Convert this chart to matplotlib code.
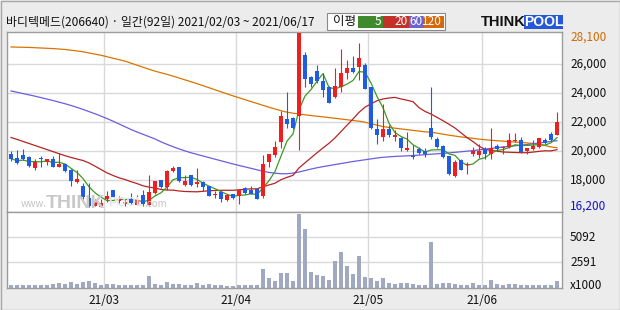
import numpy as np
import pandas as pd
import matplotlib
matplotlib.use("Agg")
import matplotlib.pyplot as plt
import matplotlib.transforms as mtransforms
from matplotlib.patches import Rectangle

plt.rcParams['font.family'] = ['Noto Sans CJK KR', 'DejaVu Sans']

# ---------------- data ----------------
title = "바디텍메드(206640) · 일간(92일) 2021/02/03 ~ 2021/06/17"
legend_title = "이평"
ma_periods = [5, 20, 60, 120]
start_date = "2021-02-03"
end_date = "2021-06-17"
holidays = ["2021-02-11", "2021-02-12", "2021-03-01", "2021-05-05", "2021-05-19"]

opens = [19800, 19550, 19750, 19600, 18850, 19500, 19250, 19500, 18950, 19100,
         18750, 17900, 17600, 16800, 16250, 16200, 16700, 17350, 16600, 16350,
         16700, 16300, 17000, 16300, 17150, 18000, 17550, 18650, 18950, 17700,
         18350, 17750, 17900, 17600, 17000, 17200, 16650, 17050, 16900, 17500,
         17350, 17400, 16900, 19250, 19750, 20650, 22250, 22300, 22400, 26600,
         25100, 25500, 24850, 24450, 23700, 24450, 25350, 25700, 25800, 25950,
         24400, 21500, 21000, 21550, 21000, 20900, 20100, 19700, 20150, 20000,
         21600, 20850, 20400, 19650, 18300, 19400, 19050, 19800, 19750, 20150,
         19800, 20350, 20250, 20300, 20700, 20750, 20000, 20150, 20300, 20800,
         21200, 21150]
highs = [20050, 20100, 20150, 19700, 19450, 19650, 19500, 19700, 19900, 19150,
         18800, 18750, 17800, 17800, 16750, 16750, 17300, 17350, 16950, 16700,
         17150, 17000, 17350, 18350, 17950, 18050, 18700, 19000, 18950, 18350,
         18400, 18850, 17950, 17650, 17300, 17250, 17050, 17100, 17400, 17550,
         17650, 17450, 19750, 19800, 20700, 22800, 24100, 22350, 28100, 26800,
         25200, 25900, 25350, 24500, 25700, 27050, 26250, 26550, 27450, 26100,
         24450, 22250, 23250, 21800, 21450, 20950, 21350, 20450, 20300, 20200,
         24400, 20950, 20450, 19650, 19400, 19450, 19300, 20300, 20500, 20300,
         21600, 20500, 20400, 21250, 21250, 21000, 20250, 20800, 20900, 20900,
         21350, 22700]
lows = [19350, 19100, 19400, 18950, 18750, 18950, 19050, 18900, 18900, 18600,
        17650, 17850, 16750, 16200, 16250, 16200, 16550, 16850, 16450, 16250,
        16400, 16300, 16250, 16300, 17100, 17450, 17350, 18600, 17900, 17650,
        17600, 17550, 17250, 16900, 16800, 16550, 16600, 16750, 16400, 17100,
        17050, 16750, 16800, 18900, 19600, 20250, 21600, 21550, 20100, 24400,
        24450, 24700, 23700, 23300, 23650, 24050, 24950, 25400, 24900, 24250,
        21550, 20500, 20700, 21000, 20700, 20050, 20050, 19500, 19800, 19600,
        20850, 20250, 19550, 18400, 18250, 18700, 18450, 19650, 19550, 19500,
        19500, 20050, 19850, 20200, 20650, 19900, 19850, 20100, 20250, 20500,
        20700, 21100]
closes = [19500, 19200, 19500, 19000, 19250, 19450, 19500, 18950, 19100, 18650,
          17950, 18100, 16850, 16250, 16600, 16450, 16950, 16850, 16700, 16500,
          16450, 16650, 16400, 17200, 17950, 17550, 18650, 18850, 17950, 17950,
          17700, 17900, 17550, 16950, 17050, 16700, 17000, 16800, 17350, 17150,
          17100, 16750, 19100, 19800, 20300, 22400, 21900, 21600, 28100, 25000,
          24600, 24800, 24200, 23350, 24500, 25350, 25700, 25450, 26400, 24300,
          21600, 21100, 21550, 21100, 21100, 20250, 20200, 19600, 19900, 19800,
          20950, 20300, 19600, 18450, 19300, 18750, 19150, 20000, 20050, 19850,
          20250, 20150, 20300, 20750, 20800, 19950, 20250, 20400, 20900, 20600,
          20800, 22000]
# volume, thousands of shares
volumes = [330, 330, 330, 330, 330, 330, 330, 430, 530, 430,
           630, 430, 630, 730, 530, 330, 430, 430, 330, 330,
           330, 330, 330, 1230, 430, 330, 630, 430, 430, 330,
           330, 530, 330, 430, 330, 330, 230, 230, 330, 330,
           330, 330, 1930, 1030, 730, 1530, 1530, 730, 7420, 5920,
           1630, 1330, 1230, 830, 2730, 3620, 2230, 1430, 3230, 1130,
           1030, 730, 1030, 530, 430, 530, 530, 430, 330, 330,
           4620, 430, 530, 530, 430, 330, 330, 530, 330, 330,
           830, 430, 330, 430, 430, 330, 330, 330, 330, 330,
           330, 730]
# MA20 values before 20 in-window closes exist
ma20_head = [20950, 20820, 20680, 20540, 20400, 20260, 20120, 19980, 19840, 19700,
             19580, 19470, 19370, 19200, 18980, 18750, 18520, 18340, 18180]
ma60 = [24150, 24060, 23970, 23880, 23790, 23690, 23590, 23490, 23380, 23270,
        23150, 23020, 22880, 22730, 22580, 22420, 22250, 22070, 21880, 21690,
        21500, 21330, 21170, 21010, 20850, 20650, 20480, 20320, 20170, 20030,
        19900, 19790, 19680, 19570, 19460, 19350, 19240, 19130, 19030, 18930,
        18830, 18730, 18630, 18550, 18500, 18460, 18460, 18500, 18580, 18680,
        18780, 18870, 18950, 19020, 19090, 19160, 19230, 19300, 19360, 19420,
        19480, 19540, 19590, 19620, 19650, 19670, 19690, 19710, 19740, 19770,
        19800, 19830, 19860, 19890, 19930, 19970, 20010, 20050, 20100, 20150,
        20200, 20250, 20300, 20340, 20380, 20420, 20470, 20520, 20570, 20620,
        20680, 20730]
ma120 = [27170, 27160, 27150, 27140, 27120, 27100, 27080, 27060, 27030, 27000,
         26950, 26900, 26840, 26760, 26680, 26600, 26500, 26400, 26300, 26200,
         26060, 25920, 25780, 25640, 25510, 25400, 25290, 25170, 25040, 24910,
         24780, 24650, 24510, 24370, 24230, 24090, 23950, 23810, 23680, 23550,
         23420, 23290, 23160, 23030, 22910, 22790, 22690, 22620, 22560, 22510,
         22460, 22410, 22370, 22320, 22270, 22220, 22170, 22120, 22070, 22000,
         21900, 21800, 21700, 21640, 21590, 21540, 21490, 21440, 21390, 21340,
         21310, 21250, 21180, 21110, 21050, 20990, 20940, 20890, 20840, 20800,
         20760, 20730, 20700, 20670, 20640, 20610, 20580, 20540, 20480, 20400,
         20300, 20250]
price_grid = [18000, 20000, 22000, 24000, 26000]
volume_grid = [2591, 5092]
volume_unit = "x1000"

# ---------------- derived ----------------
dates = pd.bdate_range(start_date, end_date)
dates = dates[~dates.isin(pd.to_datetime(holidays))]
n = len(closes)
x = np.arange(n)
o = np.array(opens, float); h = np.array(highs, float)
l = np.array(lows, float); c = np.array(closes, float)
cs = pd.Series(c)
ma5 = cs.rolling(5, min_periods=1).mean().values
ma20 = np.concatenate([ma20_head, cs.rolling(20).mean().values[len(ma20_head):]])

UP = '#f01e1e'
DOWN = '#1f5ce6'
GRID = '#d9d9d9'
SPINE = '#9c9c9c'
ma_colors = ['#3d9a22', '#b52424', '#6a5ee0', '#d97400']
leg_colors = ['#3f8a2c', '#c23229', '#6b62d6', '#d46a0c']

W, H = 620, 310
fig = plt.figure(figsize=(W / 100, H / 100), dpi=100)
fig.patch.set_facecolor('#ececec')

def fx(px):
    return px / W

def fy(py):
    return 1 - py / H

ax = fig.add_axes([fx(7), fy(212), fx(555), 180 / H])
axv = fig.add_axes([fx(7), fy(288), fx(555), 76 / H])

for a in (ax, axv):
    a.set_facecolor('white')
    a.set_xlim(-0.667, n - 0.167)
    a.set_xticks([]); a.set_yticks([])
    for s in a.spines.values():
        s.set_color(SPINE); s.set_linewidth(1.0)

ax.set_ylim(15830, 28200)
axv.set_ylim(0, 7650)

# grid
bounds = [i - 0.5 for i in range(1, n) if dates[i].month != dates[i - 1].month]
blabels = [dates[i].strftime('%y/%m') for i in range(1, n) if dates[i].month != dates[i - 1].month]
for b in bounds:
    ax.axvline(b, color=GRID, lw=1.0, zorder=0)
    axv.axvline(b, color=GRID, lw=1.0, zorder=0)
for p in price_grid:
    ax.axhline(p, color=GRID, lw=1.0, zorder=0)
for v in volume_grid:
    axv.axhline(v, color=GRID, lw=1.0, zorder=0)

# watermark (faint)
wm = '#c4c4c4'
fig.text(fx(21), fy(204), "www.", fontsize=7, color=wm, va='center', ha='left', zorder=1)
fig.text(fx(46), fy(203), "THINK", fontsize=14, color='#c9c9c9', fontweight='bold',
         family=['Liberation Sans', 'DejaVu Sans'], va='center', ha='left', zorder=1)
fig.text(fx(108), fy(203), "POOL", fontsize=9, color='#e6e6e6', fontweight='bold',
         family=['Liberation Sans', 'DejaVu Sans'], va='center', ha='left', zorder=1)
fig.text(fx(144), fy(204), ".com", fontsize=7, color=wm, va='center', ha='left', zorder=1)

# moving averages
for vals, col in zip([ma120, ma60, ma20, ma5], ma_colors[::-1]):
    ax.plot(x, vals, color=col, lw=0.9, zorder=2, solid_joinstyle='miter')

# candles
up = c >= o
cols = np.where(up, UP, DOWN)
ax.vlines(x, l, h, colors=cols, lw=0.8, zorder=3)
body_lo = np.minimum(o, c)
body_h = np.maximum(np.abs(c - o), 60)
ax.bar(x, body_h, bottom=body_lo, width=0.76, color=cols, edgecolor='none', linewidth=0, zorder=4)

# volume
axv.bar(x, volumes, width=0.78, color='#a1a9c1', edgecolor='none', linewidth=0, zorder=2)

# right-side price labels
tr = mtransforms.blended_transform_factory(ax.transAxes, ax.transData)
lx = (570 - 7) / 555
for p in price_grid[::-1]:
    ax.text(lx, p, f"{p:,}", transform=tr, fontsize=8.5, va='center', ha='left', color='#111111')
hi = max(highs); lo = min(lows)
ax.text(lx, hi, f"{hi:,}", fontsize=8.5, va='center', ha='left', color='#d06a00',
        transform=mtransforms.offset_copy(tr, fig=fig, y=-3.0, units='points'))
ax.text(lx, lo, f"{lo:,}", transform=tr, fontsize=8.5, va='center', ha='left', color='#1414c8')

trv = mtransforms.blended_transform_factory(axv.transAxes, axv.transData)
for v in volume_grid[::-1]:
    axv.text(lx, v, f"{v}", transform=trv, fontsize=8.5, va='center', ha='left', color='#111111')
axv.text(lx, 0, volume_unit, fontsize=8.5, va='center', ha='left', color='#111111',
         transform=mtransforms.offset_copy(trv, fig=fig, y=1.5, units='points'))

# month labels
trx = mtransforms.blended_transform_factory(axv.transData, axv.transAxes)
for b, lab in zip(bounds, blabels):
    axv.text(b, (288 - 301) / 76, lab, transform=trx, fontsize=8.5, va='center', ha='center',
             color='#111111')

# header title
fig.text(fx(6), fy(22), title, fontsize=8.6, va='center', ha='left', color='#111111')

# legend box
fig.patches.append(Rectangle((fx(327), fy(29.5)), fx(118), 16.5 / H, transform=fig.transFigure,
                             facecolor='white', edgecolor='#8a8a8a', lw=0.8))
fig.text(fx(333), fy(21.5), legend_title, fontsize=9, va='center', ha='left', color='#111111')
edges = [358, 383, 409, 423.5, 443.5]
for k, (p, col) in enumerate(zip(ma_periods, leg_colors)):
    fig.patches.append(Rectangle((fx(edges[k]), fy(27.5)), fx(edges[k + 1] - edges[k]), 12 / H,
                                 transform=fig.transFigure, facecolor=col, edgecolor='none'))
    fig.text(fx(edges[k + 1] - 1.5), fy(21.5), str(p), fontsize=8.5, va='center', ha='right',
             color='white')

# logo
fig.text(fx(481), fy(22.5), "THINK", fontsize=10.5, fontweight='bold', color='#111111',
         family=['Liberation Sans', 'DejaVu Sans'], va='center', ha='left')
fig.patches.append(Rectangle((fx(524), fy(29)), fx(39), 13.5 / H, transform=fig.transFigure,
                             facecolor='#2458d8', edgecolor='none'))
fig.text(fx(543.5), fy(22.5), "POOL", fontsize=10, fontweight='bold', color='white',
         family=['Liberation Sans', 'DejaVu Sans'], va='center', ha='center')

# outer frame
fig.patches.append(Rectangle((0.5 / W, 0.5 / H), 1 - 1 / W, 1 - 1 / H, transform=fig.transFigure,
                             facecolor='none', edgecolor='#a8a8a8', lw=1.0))

fig.savefig("out.png", dpi=100, facecolor=fig.get_facecolor())
